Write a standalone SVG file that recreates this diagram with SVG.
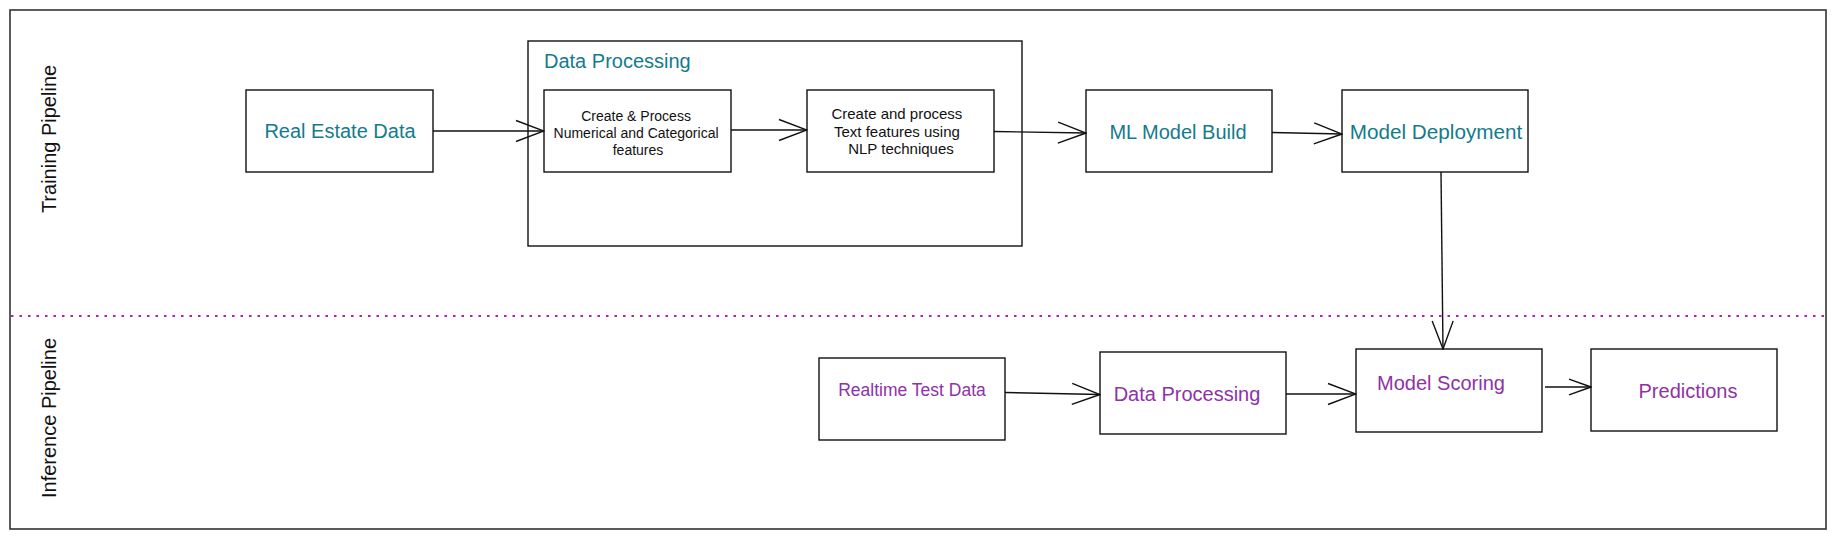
<svg xmlns="http://www.w3.org/2000/svg" width="1835" height="539" viewBox="0 0 1835 539">
<style>
  .box { fill: #ffffff; stroke: #111111; stroke-width: 1.4; }
  .frame { fill: #ffffff; stroke: #333333; stroke-width: 1.6; }
  .teal { font-family: "Liberation Sans", Arial, sans-serif; fill: #137b8b; font-size: 20px; }
  .purple { font-family: "Liberation Sans", Arial, sans-serif; fill: #8e32a6; font-size: 20px; }
  .small { font-family: "Liberation Sans", Arial, sans-serif; fill: #111111; }
  .lane { font-family: "Liberation Sans", Arial, sans-serif; fill: #111111; font-size: 20px; }
  .conn { fill: none; stroke: #111111; stroke-width: 1.4; }
</style>
<defs>
  <marker id="open" viewBox="0 0 30 24" refX="29" refY="12" markerWidth="30" markerHeight="24" markerUnits="userSpaceOnUse" orient="auto">
    <path d="M1,1.5 L29,12 L1,22.5" fill="none" stroke="#111111" stroke-width="1.4"/>
  </marker>
  <marker id="openSmall" viewBox="0 0 24 18" refX="23" refY="9" markerWidth="24" markerHeight="18" markerUnits="userSpaceOnUse" orient="auto">
    <path d="M1,1.2 L23,9 L1,16.8" fill="none" stroke="#111111" stroke-width="1.4"/>
  </marker>
</defs>
<rect width="1835" height="539" fill="#ffffff"/>

<g id="frame">
  <rect class="frame" x="10" y="10" width="1816" height="519"/>
  <line x1="11" y1="316" x2="1825" y2="316" stroke="#a024cc" stroke-width="2" stroke-dasharray="2.5 6"/>
</g>

<g id="lane-training">
  <text class="lane" text-anchor="middle" transform="translate(56,139) rotate(-90)">Training Pipeline</text>
</g>
<g id="lane-inference">
  <text class="lane" text-anchor="middle" transform="translate(56,418) rotate(-90)">Inference Pipeline</text>
</g>

<g id="real-estate-data">
  <rect class="box" x="246" y="90" width="187" height="82"/>
  <text class="teal" x="340" y="138" text-anchor="middle">Real Estate Data</text>
</g>

<g id="data-processing-group">
  <rect class="box" x="528" y="41" width="494" height="205"/>
  <text class="teal" x="544" y="68">Data Processing</text>
</g>

<g id="num-cat-features">
  <rect class="box" x="544" y="90" width="187" height="82"/>
  <text class="small" font-size="14" text-anchor="middle">
    <tspan x="638" y="121">Create &amp; Process</tspan>
    <tspan x="638" y="138">Numerical and Categorical</tspan>
    <tspan x="638" y="155">features</tspan>
  </text>
</g>

<g id="text-features">
  <rect class="box" x="807" y="90" width="187" height="82"/>
  <text class="small" font-size="15" text-anchor="middle">
    <tspan x="899" y="119">Create and process</tspan>
    <tspan x="899" y="136.5">Text features using</tspan>
    <tspan x="901" y="154">NLP techniques</tspan>
  </text>
</g>

<g id="ml-model-build">
  <rect class="box" x="1086" y="90" width="186" height="82"/>
  <text class="teal" x="1178" y="139" text-anchor="middle">ML Model Build</text>
</g>

<g id="model-deployment">
  <rect class="box" x="1342" y="90" width="186" height="82"/>
  <text class="teal" x="1436" y="139" text-anchor="middle" style="font-size:20.7px">Model Deployment</text>
</g>

<g id="realtime-test-data">
  <rect class="box" x="819" y="358" width="186" height="82"/>
  <text class="purple" x="912" y="396" text-anchor="middle" style="font-size:17.5px">Realtime Test Data</text>
</g>

<g id="data-processing-inference">
  <rect class="box" x="1100" y="352" width="186" height="82"/>
  <text class="purple" x="1187" y="401" text-anchor="middle">Data Processing</text>
</g>

<g id="model-scoring">
  <rect class="box" x="1356" y="349" width="186" height="83"/>
  <text class="purple" x="1441" y="390" text-anchor="middle">Model Scoring</text>
</g>

<g id="predictions">
  <rect class="box" x="1591" y="349" width="186" height="82"/>
  <text class="purple" x="1688" y="398" text-anchor="middle">Predictions</text>
</g>

<g id="connectors">
  <line class="conn" x1="433" y1="131" x2="544" y2="131" marker-end="url(#open)"/>
  <line class="conn" x1="731" y1="130" x2="807" y2="130" marker-end="url(#open)"/>
  <line class="conn" x1="994" y1="131.5" x2="1086" y2="133" marker-end="url(#open)"/>
  <line class="conn" x1="1272" y1="132.5" x2="1342" y2="134" marker-end="url(#open)"/>
  <line class="conn" x1="1441" y1="172" x2="1443" y2="349" marker-end="url(#open)"/>
  <line class="conn" x1="1005" y1="392.5" x2="1100" y2="394.5" marker-end="url(#open)"/>
  <line class="conn" x1="1286" y1="394" x2="1356" y2="394" marker-end="url(#open)"/>
  <line class="conn" x1="1545" y1="387" x2="1591" y2="387" marker-end="url(#openSmall)"/>
</g>
</svg>
